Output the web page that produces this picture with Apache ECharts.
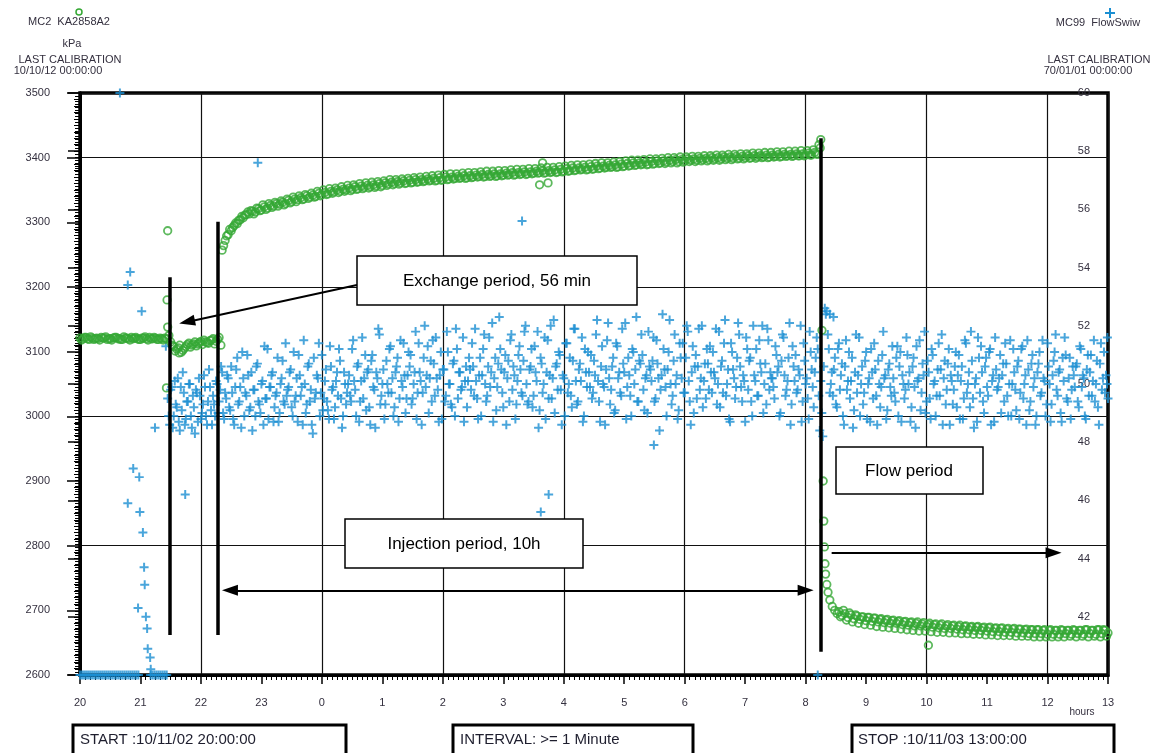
<!DOCTYPE html>
<html>
<head>
<meta charset="utf-8">
<script src="https://cdn.jsdelivr.net/npm/echarts@6/dist/echarts.min.js"></script>
<style>
html,body{margin:0;padding:0;background:#fff;}
#chart{width:1164px;height:753px;}
</style>
</head>
<body>
<div id="chart"></div>
<script>
// ---------- DATA ----------
// x axis: hours since START (10/11/02 20:00:00)
const hourTickLabels = ['20','21','22','23','0','1','2','3','4','5','6','7','8','9','10','11','12','13'];
const pressureTickLabels = [2600,2700,2800,2900,3000,3100,3200,3300,3400,3500];
const flowTickLabels = ['',42,44,46,48,50,52,54,56,58,60];

// MC2 KA2858A2 pressure (kPa); two interleaved reading sets, each every 3 minutes (0.05 h)
const PRESSURE_STEP = 0.05;
const pressureBeforeStart = 0.0;
const pressureBefore = [3121,3120,3122,3119,3121,3120,3120,3122,3121,3119,3120,3121,3122,3120,3119,3121,3120,3122,3121,3120,3119,3121,3120,3122,3120,3121,3119,3120,3121];
const pressureBeforeBStart = 0.025;
const pressureBeforeB = [3118,3122,3120,3123,3119,3121,3118,3121,3123,3120,3118,3122,3120,3119,3123,3121,3118,3120,3122,3119,3121,3123,3118,3120,3122,3119,3121,3118,3120];
const pressureExchangeStart = 1.5;
const pressureExchange = [3115,3108,3104,3110,3102,3108,3113,3110,3115,3112,3116,3118,3114,3117,3120,3116,3122];
const pressureExchangeBStart = 1.525;
const pressureExchangeB = [3110,3101,3106,3099,3105,3111,3107,3112,3109,3114,3111,3115,3113,3118,3112,3119];
const pressureInjectionStart = 2.35;
const pressureInjection = [
3257,3272,3281,3287,3295,3298,3304,3307,3312,3313,
3317,3316,3321,3319,3324,3322,3326,3325,3329,3328,
3331,3329,3334,3332,3336,3335,3338,3336,3341,3339,
3342,3340,3345,3343,3346,3344,3348,3347,3350,3348,
3351,3350,3353,3351,3355,3352,3356,3354,3357,3355,
3358,3356,3360,3357,3361,3359,3362,3360,3363,3361,
3364,3361,3365,3362,3366,3363,3366,3364,3367,3365,
3368,3365,3369,3366,3370,3367,3370,3368,3371,3369,
3372,3369,3372,3370,3373,3371,3374,3371,3374,3372,
3375,3372,3375,3373,3376,3374,3377,3374,3377,3375,
3378,3375,3378,3376,3379,3377,3380,3377,3380,3378,
3381,3378,3382,3379,3383,3380,3384,3381,3384,3382,
3385,3382,3386,3383,3387,3384,3387,3385,3388,3386,
3389,3386,3390,3387,3391,3388,3392,3389,3392,3390,
3393,3390,3394,3391,3395,3392,3395,3393,3396,3394,
3397,3394,3397,3395,3398,3396,3398,3396,3399,3397,
3399,3397,3400,3398,3400,3398,3401,3399,3401,3399,
3402,3399,3402,3400,3403,3400,3403,3401,3403,3401,
3404,3401,3404,3402,3405,3402,3405,3403,3405,3403,
3406,3403,3406,3404,3407,3404,3408,3405];
const pressureInjectionBStart = 2.375;
const pressureInjectionB = [
3264,3279,3289,3292,3299,3303,3309,3311,3316,3318,
3313,3322,3318,3327,3320,3329,3323,3331,3325,3333,
3327,3336,3330,3339,3332,3341,3335,3343,3337,3345,
3339,3348,3341,3350,3343,3352,3345,3353,3346,3355,
3348,3357,3349,3358,3351,3360,3352,3361,3353,3362,
3354,3363,3355,3364,3357,3366,3358,3366,3359,3367,
3360,3368,3361,3369,3362,3370,3363,3371,3364,3372,
3364,3373,3365,3374,3366,3375,3367,3375,3368,3376,
3368,3377,3369,3377,3370,3378,3370,3379,3371,3379,
3371,3380,3372,3380,3373,3381,3373,3382,3374,3382,
3374,3383,3375,3383,3376,3384,3376,3385,3377,3385,
3377,3386,3378,3387,3379,3388,3380,3389,3381,3389,
3381,3390,3382,3391,3383,3392,3384,3392,3385,3393,
3385,3394,3386,3395,3387,3396,3388,3396,3389,3397,
3389,3398,3390,3398,3391,3399,3391,3400,3392,3400,
3392,3401,3393,3401,3394,3402,3394,3402,3395,3403,
3395,3403,3396,3404,3396,3404,3397,3405,3397,3405,
3398,3406,3398,3406,3399,3407,3399,3407,3400,3408,
3400,3408,3401,3409,3401,3409,3402,3410,3402,3410,
3403,3411,3403,3411,3404,3412,3406];
const pressureFlowStart = 12.55;
const pressureFlow = [
2698,2692,2695,2689,2693,2687,2691,2686,2690,2684,
2689,2683,2688,2682,2687,2681,2686,2680,2685,2680,
2684,2678,2683,2677,2682,2676,2682,2676,2681,2675,
2680,2674,2679,2673,2679,2672,2678,2672,2677,2671,
2677,2670,2676,2670,2675,2669,2675,2669,2674,2668,
2674,2667,2673,2667,2673,2666,2672,2666,2672,2665,
2671,2665,2671,2664,2670,2664,2670,2664,2670,2663,
2670,2663,2669,2663,2669,2664,2669,2663,2669,2664,
2669,2663,2670,2664,2669,2663,2670,2664,2669,2665];
const pressureFlowBStart = 12.575;
const pressureFlowB = [
2690,2700,2685,2696,2682,2693,2680,2690,2678,2689,
2677,2688,2675,2686,2674,2685,2673,2684,2672,2683,
2671,2682,2670,2681,2669,2680,2668,2679,2668,2678,
2667,2678,2666,2677,2666,2676,2665,2676,2665,2675,
2664,2675,2664,2674,2663,2674,2663,2673,2662,2673,
2662,2672,2661,2672,2661,2671,2661,2671,2660,2671,
2660,2670,2660,2670,2659,2670,2659,2669,2659,2669,
2659,2669,2659,2670,2659,2669,2660,2670,2659,2669,
2660,2670,2659,2669,2660,2670,2659,2670,2660];
// irregular pressure readings [hours, kPa]
const pressureExtra = [
[1.45,3287],[1.44,3180],[1.45,3138],[1.43,3044],[1.47,3125],[1.64,3098],[2.33,3110],
[7.60,3358],[7.74,3361],[7.65,3392],
[12.22,3420],[12.25,3428],[12.24,3415],
[12.27,3133],[12.29,2900],[12.30,2838],[12.31,2798],[12.32,2772],[12.33,2756],[12.35,2740],
[12.37,2728],[12.40,2716],[12.44,2706],[12.48,2700],[12.52,2695],
[14.03,2646]];

// MC99 FlowSwiw; two interleaved reading sets, each every 2 minutes (1/30 h)
const FLOW_STEP = 1/30;
const flowLow1Start = 0.0;
const flowLow1 = [40,40,40,40,40,40,40,40,40,40,40,40,40,40,40,40,40,40,40,40,40,40,40,40,40];
const flowLow2Start = 0.833;
const flowLow2 = [40,40,40,40,40];
const flowLow3Start = 1.167;
const flowLow3 = [40,40,40,40,40,40,40,40,40];
const flowBandStart = 1.45;
const flowBand = [
49.5,48.6,49.9,48.9,49.3,50.2,48.4,49.1,49.7,48.8,49.4,50.0,48.5,49.2,49.8,48.7,49.6,49.0,50.3,48.9,49.4,49.9,48.6,49.3,50.1,49.0,49.8,50.4,48.8,49.5,
50.2,49.1,49.7,48.6,50.5,49.3,49.9,51.1,48.9,49.6,50.3,49.2,48.4,49.8,50.6,49.4,49.0,50.1,51.3,49.5,48.8,49.9,50.4,49.2,49.7,48.7,50.0,50.8,49.3,49.6,
49.9,50.5,48.9,49.4,50.2,51.0,49.6,48.6,50.0,49.3,50.7,49.8,48.3,49.5,50.3,51.4,49.7,49.1,50.1,49.4,48.8,50.6,49.9,49.2,50.4,51.2,49.5,48.9,50.0,49.7,
50.3,49.4,51.5,49.8,50.6,48.7,50.1,49.5,51.0,50.4,49.2,50.8,49.9,48.5,50.2,51.7,49.6,50.5,49.3,50.0,51.2,49.7,48.9,50.4,50.9,49.5,50.1,51.4,49.0,50.3,
50.6,49.3,50.0,51.8,49.7,50.4,48.6,50.9,49.9,51.3,50.2,49.4,50.7,51.6,49.8,50.3,48.8,50.5,49.6,51.1,50.0,49.2,50.8,51.9,49.5,50.4,49.9,48.7,50.6,50.1,
50.5,51.4,49.6,50.1,48.8,50.9,50.3,51.7,49.4,50.6,49.9,52.1,50.2,49.1,50.7,51.2,49.7,50.4,48.6,50.8,51.5,49.8,50.3,49.3,51.0,50.5,49.6,51.8,50.0,49.4,
50.6,49.2,51.3,50.1,48.5,50.9,49.7,51.6,50.4,49.5,52.0,50.2,49.0,50.7,51.1,49.8,50.3,48.9,51.4,50.0,49.6,50.8,51.9,49.3,50.5,50.1,48.7,51.2,49.9,50.4,
51.0,49.7,50.3,52.2,49.4,50.6,50.0,48.6,51.5,50.2,49.8,50.9,49.1,51.3,50.4,49.6,50.7,52.1,49.9,50.3,48.9,51.1,50.5,49.4,50.8,51.7,49.8,50.2,49.0,50.6,
50.1,51.6,49.5,50.7,48.4,50.3,51.2,49.9,50.5,52.2,49.3,50.8,50.0,48.8,51.4,50.2,49.7,50.9,51.8,49.4,50.4,49.0,51.0,50.6,49.8,52.0,50.1,49.5,50.7,51.3,
49.7,50.4,51.9,50.0,49.2,50.8,51.4,49.6,50.5,48.7,51.1,50.2,49.9,52.1,50.6,49.4,50.1,51.6,49.8,50.9,48.9,50.3,51.2,49.6,50.7,52.0,50.0,49.3,51.5,50.4,
50.2,49.5,51.0,50.6,49.0,51.7,50.3,49.8,50.9,48.6,51.3,50.1,49.7,50.5,52.0,49.4,50.8,50.2,48.8,51.1,49.9,50.4,51.6,49.6,50.1,48.2,52.6,52.5,51.2,50.0,
49.6,50.9,49.2,51.4,50.3,48.9,50.6,49.8,51.1,50.1,48.5,50.4,49.7,51.6,50.0,49.3,50.8,48.8,50.2,51.2,49.5,50.5,48.6,50.0,49.9,51.8,50.3,49.1,50.7,49.6,
50.2,49.4,51.3,50.6,48.7,50.0,49.8,51.0,50.4,49.2,50.9,48.5,50.1,51.5,49.7,50.3,49.0,50.8,49.5,51.2,50.0,48.9,50.5,49.6,51.7,50.2,49.3,50.7,48.6,50.1,
49.8,51.1,50.3,48.8,50.6,49.5,51.4,50.0,49.2,50.8,48.5,50.2,51.6,49.7,50.4,49.0,50.9,49.6,51.2,50.1,48.7,50.5,49.9,51.0,50.3,49.4,50.7,48.9,51.5,50.0,
50.4,49.1,50.8,49.7,51.3,50.0,48.6,50.5,49.4,51.0,50.2,48.9,50.7,49.6,51.5,50.1,49.3,50.6,48.7,50.3,51.1,49.8,50.4,49.0,50.9,51.6,49.5,50.2,48.8,50.6,
49.9,50.7,49.2,51.2,50.3,48.9,50.5,49.6,51.0,50.1,49.4,50.8,48.6,51.4,50.2,49.7,50.0];
const flowBandBStart = 1.4667;
const flowBandB = [
48.9,49.8,48.5,50.1,49.2,48.7,49.9,50.4,48.6,49.4,50.0,48.9,49.6,48.3,49.7,50.2,48.8,49.3,49.9,48.6,50.5,49.1,49.6,48.9,50.0,49.4,50.6,49.0,49.7,50.3,
49.2,50.6,48.8,49.9,50.9,49.4,48.5,50.2,49.7,51.0,49.1,50.4,49.8,48.9,50.7,49.3,50.0,48.6,49.5,51.2,49.9,50.3,48.7,49.6,50.9,49.0,50.2,49.4,51.4,49.8,
50.4,49.2,51.1,49.6,48.7,50.3,49.9,51.5,49.0,50.6,49.4,48.6,50.9,49.7,50.2,48.9,51.0,49.5,50.5,49.1,51.3,49.8,48.8,50.1,49.6,50.8,48.5,50.4,49.3,50.0,
49.6,51.2,50.1,48.9,50.7,49.4,51.6,50.2,49.1,50.5,48.6,51.0,49.8,50.4,51.9,49.3,50.0,48.8,50.8,49.7,51.3,50.2,49.2,50.6,48.7,51.5,49.9,50.3,49.5,51.1,
51.0,49.5,50.4,48.8,51.4,50.1,49.7,52.0,50.3,49.0,50.8,51.5,49.6,50.2,48.7,51.1,50.5,49.4,51.8,50.0,49.3,50.7,48.9,51.2,50.4,49.8,51.6,50.1,49.2,50.9,
49.8,50.6,51.9,49.5,50.3,48.9,51.2,50.0,49.6,51.6,50.4,48.7,50.9,49.9,52.3,50.5,49.2,51.0,50.2,49.4,51.7,50.6,48.8,50.1,51.3,49.7,50.8,52.0,49.3,50.5,
51.2,49.6,50.4,51.8,49.1,50.7,50.0,48.8,51.5,50.3,49.5,52.2,50.6,49.8,51.0,48.6,50.2,51.4,49.7,50.9,49.2,51.9,50.1,49.4,50.7,51.6,48.9,50.4,51.1,49.9,
49.5,50.8,51.7,50.1,48.7,51.3,49.9,50.5,52.1,49.3,50.6,49.0,51.4,50.2,49.7,51.9,50.4,48.8,50.9,49.6,51.2,50.0,52.3,49.4,50.7,51.0,49.1,50.3,51.8,50.5,
50.8,49.4,51.5,50.2,49.8,52.4,50.5,48.9,51.1,50.0,49.6,51.7,50.3,49.1,50.9,51.4,49.7,52.0,50.1,48.6,51.3,50.6,49.5,51.9,50.2,49.2,50.7,51.2,49.8,50.4,
51.1,50.2,49.3,51.8,50.6,49.7,52.2,50.0,48.8,51.4,50.5,49.5,50.9,51.7,49.9,50.3,48.7,51.2,50.8,49.4,52.0,50.1,49.6,51.5,50.4,49.0,50.7,51.9,49.8,50.2,
49.9,51.3,50.4,48.9,50.8,51.6,49.6,50.1,52.1,49.3,50.6,51.0,49.8,50.3,48.7,51.4,50.0,49.5,51.8,50.5,49.2,50.9,51.2,48.4,49.0,50.6,52.4,51.7,49.7,50.4,
50.5,49.3,51.2,49.8,50.7,48.6,51.5,50.1,49.5,50.9,49.1,51.7,50.3,48.9,50.6,49.7,51.1,50.0,48.7,50.4,51.4,49.6,50.8,49.2,51.0,50.2,48.8,50.5,49.9,51.3,
49.7,50.9,48.9,51.1,50.3,49.5,51.6,50.0,48.7,50.6,49.9,51.3,50.2,49.1,50.7,51.8,49.4,50.4,48.8,51.0,50.1,49.6,51.4,50.5,48.6,50.8,49.8,51.2,50.3,49.3,
50.6,49.2,51.0,50.1,48.8,51.5,49.7,50.4,51.8,49.5,50.0,48.7,50.9,51.3,49.4,50.6,49.9,51.1,48.6,50.3,51.6,49.8,50.2,49.0,50.7,51.4,49.6,50.0,48.9,51.2,
49.8,50.6,48.8,51.2,49.5,50.3,51.5,49.1,50.7,49.9,48.6,50.4,51.1,49.7,50.2,48.9,51.4,50.0,49.3,50.8,51.7,49.6,50.5,48.7,50.1,51.0,49.4,50.9,49.8,50.3,
50.6,49.4,51.3,49.9,50.2,48.8,51.0,50.4,49.6,51.5,50.0,49.2,50.7,49.8,51.1,50.3,49.5];
// irregular flow readings [hours, value]
const flowExtra = [
[0.66,60],[0.83,53.85],[0.79,53.4],[1.02,52.5],[1.42,51.3],[0.88,47.1],[0.98,46.8],[0.79,45.9],
[0.99,45.6],[1.04,44.9],[1.06,43.7],[1.07,43.1],[0.96,42.3],[1.09,42.0],[1.11,41.6],[1.12,40.9],
[1.16,40.6],[1.17,40.2],[1.24,48.5],[1.74,46.2],[2.94,57.6],[7.31,55.6],[7.75,46.2],[7.62,45.6],
[9.49,47.9],[12.20,40.0],[16.99,51.6],[12.40,52.4],[12.46,52.3]];

// ---------- BUILD ----------
function seg(start, step, vals){ return vals.map((v,i)=>[start+i*step, v]); }
const pressureData = [].concat(
  seg(pressureBeforeStart, PRESSURE_STEP, pressureBefore),
  seg(pressureBeforeBStart, PRESSURE_STEP, pressureBeforeB),
  seg(pressureExchangeStart, PRESSURE_STEP, pressureExchange),
  seg(pressureExchangeBStart, PRESSURE_STEP, pressureExchangeB),
  seg(pressureInjectionStart, PRESSURE_STEP, pressureInjection),
  seg(pressureInjectionBStart, PRESSURE_STEP, pressureInjectionB),
  seg(pressureFlowStart, PRESSURE_STEP, pressureFlow),
  seg(pressureFlowBStart, PRESSURE_STEP, pressureFlowB),
  pressureExtra);
const flowData = [].concat(
  seg(flowLow1Start, FLOW_STEP, flowLow1),
  seg(flowLow2Start, FLOW_STEP, flowLow2),
  seg(flowLow3Start, FLOW_STEP, flowLow3),
  seg(flowBandStart, FLOW_STEP, flowBand),
  seg(flowBandBStart, FLOW_STEP, flowBandB),
  flowExtra);

const GREEN = '#35a834';
const BLUE = '#1b8fd2';
const TXT = '#34303f';
const FONT = '"Liberation Sans", Arial, sans-serif';
const PLUS = 'path://M3.9,0H6.1V3.9H10V6.1H6.1V10H3.9V6.1H0V3.9H3.9Z';

function vline(x, y1, y2){ return [{coord:[x,y1], symbol:'none'},{coord:[x,y2], symbol:'none'}]; }

const chart = echarts.init(document.getElementById('chart'), null, {renderer:'canvas'});
const option = {
  animation: false,
  backgroundColor: '#fff',
  grid: {left:80, right:56, top:93, bottom:78, show:true, borderColor:'#000', borderWidth:3.5},
  xAxis: [
    {type:'value', min:0, max:17, interval:1, position:'bottom',
     axisLine:{show:true, lineStyle:{color:'#000', width:3}},
     axisTick:{show:true, length:9, lineStyle:{color:'#000', width:1.5}},
     minorTick:{show:true, splitNumber:12, length:5, lineStyle:{color:'#000', width:1}},
     axisLabel:{formatter:(v)=>hourTickLabels[Math.round(v)], color:TXT, fontSize:11, fontFamily:FONT, margin:22},
     splitLine:{show:false}},
    {type:'value', min:0, max:17, interval:2, position:'top',
     axisLine:{show:false}, axisTick:{show:false}, axisLabel:{show:false},
     splitLine:{show:true, lineStyle:{color:'#111', width:1.2}}}
  ],
  yAxis: [
    {type:'value', min:2600, max:3500, interval:100, position:'left',
     axisLine:{show:true, lineStyle:{color:'#000', width:3}},
     axisTick:{show:true, length:13, lineStyle:{color:'#000', width:1.5}},
     minorTick:{show:true, splitNumber:10, length:6, lineStyle:{color:'#000', width:1}},
     axisLabel:{formatter:(v)=>String(pressureTickLabels[Math.round((v-2600)/100)]), color:TXT, fontSize:11, fontFamily:FONT, margin:30},
     splitLine:{show:false}},
    {type:'value', min:40, max:60, interval:2, position:'right',
     axisLine:{show:true, lineStyle:{color:'#000', width:3}},
     axisTick:{show:true, inside:true, length:12, lineStyle:{color:'#000', width:1.5}},
     minorTick:{show:true, splitNumber:20, length:5, lineStyle:{color:'#000', width:1}},
     axisLabel:{inside:true, formatter:(v)=>String(flowTickLabels[Math.round((v-40)/2)]), color:TXT, fontSize:11, fontFamily:FONT, margin:18},
     splitLine:{show:false}},
    {type:'value', min:2600, max:3500, interval:200, position:'left',
     axisLine:{show:false}, axisTick:{show:false}, axisLabel:{show:false},
     splitLine:{show:true, lineStyle:{color:'#111', width:1.2}}}
  ],
  series: [
    {name:'MC99 FlowSwiw', type:'scatter', xAxisIndex:0, yAxisIndex:1, data:flowData, clip:false,
     symbol:PLUS, symbolSize:9, itemStyle:{color:BLUE}, z:2},
    {name:'MC2 KA2858A2', type:'scatter', xAxisIndex:0, yAxisIndex:0, data:pressureData, clip:false,
     symbol:'circle', symbolSize:7.5, itemStyle:{color:'rgba(0,0,0,0)', borderColor:GREEN, borderWidth:1.8}, z:3},
    {name:'annotations', type:'line', xAxisIndex:0, yAxisIndex:0, data:[], z:5,
     markLine:{silent:true, animation:false, label:{show:false}, symbol:['none','none'],
       lineStyle:{color:'#000', width:3.5, type:'solid'},
       data:[
         vline(1.49, 3215, 2662),
         vline(2.28, 3301, 2662),
         vline(12.25, 3430, 2636),
         [{coord:[4.58,3203], symbol:'none', lineStyle:{width:2}},{coord:[1.77,3146], symbol:'triangle', symbolSize:[11,16]}],
         [{coord:[2.48,2731], symbol:'triangle', symbolSize:[11,16], lineStyle:{width:2}},{coord:[12.0,2731], symbol:'triangle', symbolSize:[11,16]}],
         [{coord:[12.43,2789], symbol:'none', lineStyle:{width:2}},{coord:[16.1,2789], symbol:'triangle', symbolSize:[11,16]}]
       ]}}
  ],
  graphic: [
    {type:'circle', z:50, shape:{cx:79, cy:12, r:3}, style:{fill:'none', stroke:GREEN, lineWidth:1.5}},
    {type:'text', z:50, x:69, y:22, style:{text:'MC2  KA2858A2', align:'center', verticalAlign:'middle', font:'11px '+FONT, fill:TXT}},
    {type:'text', z:50, x:72, y:44, style:{text:'kPa', align:'center', verticalAlign:'middle', font:'11px '+FONT, fill:TXT}},
    {type:'text', z:50, x:70, y:60, style:{text:'LAST CALIBRATION', align:'center', verticalAlign:'middle', font:'11px '+FONT, fill:TXT}},
    {type:'text', z:50, x:58, y:71, style:{text:'10/10/12 00:00:00', align:'center', verticalAlign:'middle', font:'11px '+FONT, fill:TXT}},
    {type:'polygon', z:50, shape:{points:[[1109,8],[1111,8],[1111,12],[1115,12],[1115,14],[1111,14],[1111,18],[1109,18],[1109,14],[1105,14],[1105,12],[1109,12]]}, style:{fill:BLUE}},
    {type:'text', z:50, x:1098, y:23, style:{text:'MC99  FlowSwiw', align:'center', verticalAlign:'middle', font:'11px '+FONT, fill:TXT}},
    {type:'text', z:50, x:1099, y:60, style:{text:'LAST CALIBRATION', align:'center', verticalAlign:'middle', font:'11px '+FONT, fill:TXT}},
    {type:'text', z:50, x:1088, y:71, style:{text:'70/01/01 00:00:00', align:'center', verticalAlign:'middle', font:'11px '+FONT, fill:TXT}},
    {type:'text', z:50, x:1082, y:712, style:{text:'hours', align:'center', verticalAlign:'middle', font:'10px '+FONT, fill:TXT}},

    {type:'rect', z:60, shape:{x:357, y:256, width:280, height:49}, style:{fill:'#fff', stroke:'#000', lineWidth:1.5}},
    {type:'text', z:61, x:497, y:281, style:{text:'Exchange period, 56 min', align:'center', verticalAlign:'middle', font:'17px '+FONT, fill:'#000'}},
    {type:'rect', z:60, shape:{x:345, y:519, width:238, height:49}, style:{fill:'#fff', stroke:'#000', lineWidth:1.5}},
    {type:'text', z:61, x:464, y:544, style:{text:'Injection period, 10h', align:'center', verticalAlign:'middle', font:'17px '+FONT, fill:'#000'}},
    {type:'rect', z:60, shape:{x:836, y:447, width:147, height:47}, style:{fill:'#fff', stroke:'#000', lineWidth:1.5}},
    {type:'text', z:61, x:909, y:471, style:{text:'Flow period', align:'center', verticalAlign:'middle', font:'17px '+FONT, fill:'#000'}},

    {type:'rect', z:60, shape:{x:73, y:725, width:273, height:40}, style:{fill:'#fff', stroke:'#000', lineWidth:3}},
    {type:'text', z:61, x:80, y:740, style:{text:'START :10/11/02 20:00:00', align:'left', verticalAlign:'middle', font:'15px '+FONT, fill:'#1e1e2e'}},
    {type:'rect', z:60, shape:{x:453, y:725, width:240, height:40}, style:{fill:'#fff', stroke:'#000', lineWidth:3}},
    {type:'text', z:61, x:460, y:740, style:{text:'INTERVAL: >= 1 Minute', align:'left', verticalAlign:'middle', font:'15px '+FONT, fill:'#1e1e2e'}},
    {type:'rect', z:60, shape:{x:852, y:725, width:262, height:40}, style:{fill:'#fff', stroke:'#000', lineWidth:3}},
    {type:'text', z:61, x:858, y:740, style:{text:'STOP :10/11/03 13:00:00', align:'left', verticalAlign:'middle', font:'15px '+FONT, fill:'#1e1e2e'}}
  ]
};
chart.setOption(option);
</script>
</body>
</html>
